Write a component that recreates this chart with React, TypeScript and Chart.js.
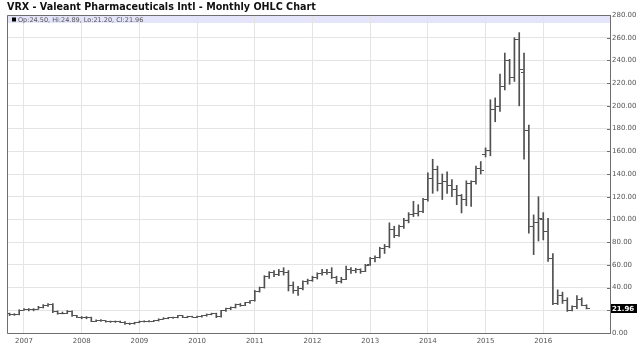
import React, { useEffect, useRef } from 'react';
import { Chart, registerables } from 'chart.js';

Chart.register(...registerables);

// ---- Chart text ----
const chartTitle = 'VRX - Valeant Pharmaceuticals Intl - Monthly OHLC Chart';
const infoText = 'Op:24.50, Hi:24.89, Lo:21.20, Cl:21.96';
const lastClose = 21.96;

// ---- Axes ----
const yearLabels = [2007, 2008, 2009, 2010, 2011, 2012, 2013, 2014, 2015, 2016];
const yTickStep = 20;
const yMin = 0;
const yMax = 280;
// first bar = Oct 2006, expressed in months relative to Jan 2007
const firstMonthOffset = -3;

// ---- Monthly OHLC values (Oct 2006 .. Oct 2016) ----
const opens = [
  17, 16, 16.5,
  20, 20.8, 20.5, 21, 22.5, 24.3, 25, 19, 17.5, 17.5, 19, 15,
  14, 13.5, 13.8, 10.5, 11, 10.8, 9.8, 10, 9.8, 9.6, 8.3, 8,
  9.3, 10.2, 10.3, 10.5, 10.8, 12.3, 13, 13.3, 13.5, 15, 14, 14.3,
  14, 14.3, 15, 16.5, 17, 14.5, 19.5, 21.5, 22.5, 25, 24.5, 26.5,
  28.3, 36.5, 40, 49.5, 53, 51.5, 54.3, 53.5, 42, 37.5, 39, 45,
  46.5, 48.5, 52, 53.5, 53.5, 49, 45, 47.5, 56, 55, 55.5, 54.5,
  60, 65.5, 66.5, 74.5, 76, 91, 86, 94, 99, 104, 105, 107,
  117.5, 135.6, 144, 132, 133, 130, 126, 121, 117.5, 131.5, 133.5, 145,
  157, 160.5, 197, 199, 217, 240, 225, 258, 229, 178.5, 94, 97,
  100, 89.5, 66, 26, 33, 29, 20, 23, 29.5, 24.5,
];
const highs = [
  17.5, 17, 20.5,
  21.5, 21.5, 21.5, 23.5, 25, 26, 26, 19.5, 18.5, 19.8, 19.5, 15.5,
  14.5, 14.5, 14, 11.5, 11.8, 11, 10.5, 10.6, 10.5, 10, 8.8, 9.5,
  10.5, 10.8, 11, 11.2, 12.5, 13.5, 13.8, 14, 15.5, 15.5, 14.8, 14.8,
  14.8, 15.5, 16.8, 17.5, 17.5, 20, 22, 23, 25.5, 26, 27, 28.5,
  37.5, 40.5, 50.5, 54, 55, 56, 57.5, 55, 45, 41, 46, 47.5,
  50, 53, 56, 56, 57.5, 50, 49, 59, 57.5, 57, 56.5, 60.5,
  66.5, 68, 75.5, 78, 97, 94, 95, 101, 106, 116, 113, 118.5,
  141, 153, 147, 140, 142, 135, 130, 122, 134, 134, 147, 151,
  163, 205.4, 207, 228, 246.5, 241, 260, 264.5, 246.5, 183, 104, 120,
  106, 101, 70, 38, 36, 31, 24, 33, 31, 24.89,
];
const lows = [
  15.3, 15.5, 16,
  19.8, 19.5, 19.5, 20.8, 22, 23.5, 18, 16.5, 16.8, 17, 14.5, 13.5,
  12.5, 12.5, 10, 10, 10.2, 9.5, 9.3, 9.3, 9, 7.5, 7.3, 7.8,
  9, 9.6, 9.8, 10, 10.5, 12, 12.5, 12.8, 13.3, 13.5, 13.5, 13.8,
  13.5, 14, 14.8, 16, 13.5, 14, 19, 20.5, 22, 23.5, 24, 26,
  28, 36, 39.5, 48, 49.5, 50.5, 51, 37, 35, 33, 38, 43,
  45.5, 47.5, 51, 51.5, 48, 43.5, 44, 47, 52.5, 53, 52.5, 54,
  59.5, 62.5, 66, 70, 75, 84, 85, 92, 97, 102.5, 103, 106,
  116, 123, 125, 117.5, 123, 120, 113, 105.7, 112, 111.5, 131, 140,
  155, 156, 186, 195, 214, 219, 221.5, 200, 153, 88, 69, 81,
  82, 63, 25, 25, 26, 19, 19.5, 21.5, 24, 21.2,
];
const closes = [
  16, 16.5, 20,
  20.8, 20.5, 21, 22.5, 24.3, 25, 19, 17.5, 17.5, 19, 15, 14,
  13.5, 13.8, 10.5, 11, 10.8, 9.8, 10, 9.8, 9.6, 8.3, 8, 9.3,
  10.2, 10.3, 10.5, 10.8, 12.3, 13, 13.3, 13.5, 15, 14, 14.3, 14,
  14.3, 15, 16.5, 17, 14.5, 19.5, 21.5, 22.5, 25, 24.5, 26.5, 28.3,
  36.5, 40, 49.5, 53, 51.5, 54.3, 53.5, 42, 37.5, 39, 45, 46.5,
  48.5, 52, 53.5, 53.5, 49, 45, 47.5, 56, 55, 55.5, 54.5, 59.8,
  65.5, 66.5, 74.5, 76, 91, 86, 94, 99, 104, 105, 107, 117.5,
  135.6, 144, 132, 133, 130, 126, 121, 117.5, 131.5, 133.5, 145, 143.5,
  160.5, 197, 199, 217, 240, 225, 258, 232, 178.5, 94, 97, 101,
  89.5, 66, 26, 33, 29, 20, 23, 29.5, 24.5, 21.96,
];

// ---- Styles ----
const barColor = '#505050';
const gridColor = '#e4e4e4';
const axisColor = '#6e6e6e';
const labelColor = '#555555';
const bandColor = '#e4e4fb';
const fontFamily = '"DejaVu Sans", Verdana, sans-serif';

function makeTickImage(left: boolean): HTMLCanvasElement {
  const c = document.createElement('canvas');
  c.width = 7;
  c.height = 1;
  const g = c.getContext('2d')!;
  g.fillStyle = barColor;
  g.fillRect(left ? 0 : 4, 0, 3, 1);
  return c;
}

const decorPlugin = {
  id: 'decor',
  beforeDraw(chart: any) {
    const { ctx, chartArea: a } = chart;
    ctx.save();
    ctx.fillStyle = '#ffffff';
    ctx.fillRect(0, 0, chart.width, chart.height);
    ctx.fillStyle = bandColor;
    ctx.fillRect(a.left, a.top, a.right - a.left, 8);
    ctx.restore();
  },
  afterDraw(chart: any) {
    const { ctx, chartArea: a } = chart;
    const ys = chart.scales.y;
    ctx.save();
    // frame
    ctx.strokeStyle = axisColor;
    ctx.lineWidth = 1;
    ctx.beginPath();
    ctx.moveTo(Math.round(a.left) + 0.5, Math.round(a.bottom) + 0.5);
    ctx.lineTo(Math.round(a.left) + 0.5, Math.round(a.top) + 0.5);
    ctx.lineTo(Math.round(a.right) + 0.5, Math.round(a.top) + 0.5);
    ctx.lineTo(Math.round(a.right) + 0.5, Math.round(a.bottom) + 0.5);
    ctx.lineTo(Math.round(a.left) + 0.5, Math.round(a.bottom) + 0.5);
    ctx.stroke();
    // inward y tick marks
    ctx.beginPath();
    for (let v = yMin; v <= yMax; v += yTickStep) {
      const py = Math.round(ys.getPixelForValue(v)) + 0.5;
      ctx.moveTo(Math.round(a.right) - 3, py);
      ctx.lineTo(Math.round(a.right) + 1, py);
    }
    ctx.stroke();

    // title
    ctx.fillStyle = '#111111';
    ctx.font = `bold 9.6px ${fontFamily}`;
    ctx.textBaseline = 'alphabetic';
    ctx.textAlign = 'left';
    ctx.fillText(chartTitle, 7, 10);

    // info band text
    ctx.fillStyle = '#000000';
    ctx.fillRect(a.left + 5, a.top + 2.5, 4, 4);
    ctx.fillStyle = '#555555';
    ctx.font = `6.5px ${fontFamily}`;
    ctx.fillText(infoText, a.left + 11, a.top + 6.8);

    // last price box
    const py = ys.getPixelForValue(lastClose);
    ctx.fillStyle = '#000000';
    ctx.fillRect(a.right + 1, Math.round(py - 4.5), 26, 9);
    ctx.fillStyle = '#ffffff';
    ctx.font = `bold 7px ${fontFamily}`;
    ctx.textBaseline = 'middle';
    ctx.fillText(lastClose.toFixed(2), a.right + 2, Math.round(py - 4.5) + 4.8);
    ctx.restore();
  },
};

export default function App() {
  const ref = useRef<HTMLCanvasElement>(null);

  useEffect(() => {
    document.body.style.margin = '0';
    const canvas = ref.current;
    if (!canvas) return;
    const xs = opens.map((_, i) => i + firstMonthOffset);
    const pxPerMonth = 4.808;
    const xMin = -(24 - 7) / pxPerMonth;
    const xMax = xMin + 603 / pxPerMonth;

    const chart = new Chart(canvas, {
      type: 'bar',
      data: {
        datasets: [
          {
            type: 'bar',
            label: 'High-Low',
            data: xs.map((x, i) => ({ x, y: [lows[i], highs[i]] })) as any,
            backgroundColor: barColor,
            borderWidth: 0,
            barThickness: 1,
            order: 1,
          } as any,
          {
            type: 'scatter',
            label: 'Open',
            data: xs.map((x, i) => ({ x, y: opens[i] })),
            pointStyle: makeTickImage(true),
            pointRadius: 3,
            showLine: false,
            order: 0,
          } as any,
          {
            type: 'scatter',
            label: 'Close',
            data: xs.map((x, i) => ({ x, y: closes[i] })),
            pointStyle: makeTickImage(false),
            pointRadius: 3,
            showLine: false,
            order: 0,
          } as any,
        ],
      },
      options: {
        responsive: false,
        animation: false,
        devicePixelRatio: 1,
        events: [],
        layout: { padding: { left: 7, top: 15, right: 0, bottom: 0 } },
        plugins: {
          legend: { display: false },
          title: { display: false },
          tooltip: { enabled: false },
        },
        scales: {
          x: {
            type: 'linear',
            min: xMin,
            max: xMax,
            offset: false,
            afterBuildTicks: (s: any) => {
              s.ticks = yearLabels.map((y) => ({ value: (y - yearLabels[0]) * 12 }));
            },
            afterFit: (s: any) => {
              s.height = 30;
            },
            ticks: {
              autoSkip: false,
              maxRotation: 0,
              padding: 4,
              color: labelColor,
              font: { family: fontFamily, size: 7 },
              callback: (v: any) => String(yearLabels[0] + Math.round(Number(v) / 12)),
            },
            grid: { color: gridColor, drawTicks: false, offset: false },
            border: { display: false },
          } as any,
          y: {
            type: 'linear',
            position: 'right',
            min: yMin,
            max: yMax,
            afterFit: (s: any) => {
              s.width = 30;
            },
            ticks: {
              stepSize: yTickStep,
              padding: 2,
              color: labelColor,
              font: { family: fontFamily, size: 7 },
              callback: (v: any) => Number(v).toFixed(2),
            },
            grid: { color: gridColor, drawTicks: false },
            border: { display: false },
          } as any,
        },
      },
      plugins: [decorPlugin],
    });

    return () => chart.destroy();
  }, []);

  return (
    <div style={{ width: 640, height: 363 }}>
      <canvas ref={ref} width={640} height={363} style={{ display: 'block' }} />
    </div>
  );
}
